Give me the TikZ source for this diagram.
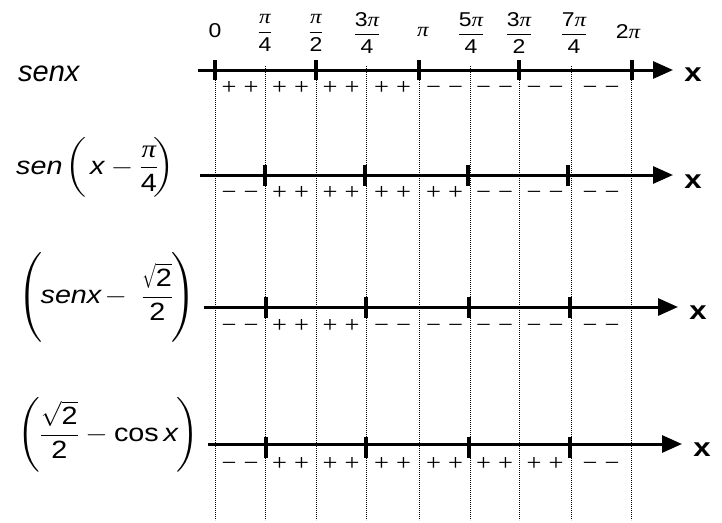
\documentclass[tikz,border=0pt]{standalone}
\usepackage{fix-cm}
\usepackage{amsmath}
\usepackage{fontspec}
\setmainfont{Liberation Sans}
\newfontfamily\serifpi{Liberation Serif}
\usepackage{graphicx}
\usetikzlibrary{arrows.meta}
\newcommand{\PI}{{\serifpi\itshape π}}
\newcommand{\hs}[2]{\scalebox{#1}[1]{#2}}
\newcommand{\sg}[1]{\if p#1+\else−\fi}
\newcommand{\rtwo}[1]{\hs{#1}{$\sqrt{\hbox{\hs{\fpeval{1/#1}}{2}}}$}}
\newcommand{\signrow}[9]{%
  \foreach \s [count=\i] in {#2,#3,#4,#5,#6,#7,#8,#9} {%
    \pgfmathsetmacro\c{{240,290.5,341,392.5,444.5,494.5,545,601}[\i-1]}%
    \node[sign] (s#1-\i a) at (\c-11,#1+6) {\hs{1.15}{\sg\s}};
    \node[sign] (s#1-\i b) at (\c+11,#1+6) {\hs{1.15}{\sg\s}};
  }%
}
\begin{document}
\begin{tikzpicture}[x=1pt,y=-1pt,
  axis/.style={line width=3pt,-{Triangle[length=20pt,width=17pt]}},
  tickmark/.style={line width=3.2pt},
  vdots/.style={line width=0.9pt,dash pattern=on 0.9pt off 1.1pt},
  sign/.style={font=\fontsize{23}{27}\selectfont\serifpi,inner sep=0pt,anchor=base},
  toplab/.style={font=\fontsize{20}{24}\selectfont,inner sep=0pt},
  xlab/.style={font=\fontsize{26}{30}\selectfont\bfseries,inner sep=0pt},
  eqlab/.style={font=\fontsize{25}{30}\selectfont,inner sep=0pt,anchor=west},
]
\useasboundingbox (0,0) rectangle (722,522);

% dotted verticals
\foreach \x [count=\i] in {215,265,316,366,419,470,519,571,631} {
  \coordinate (dt\i) at (\x,66);
  \coordinate (db\i) at (\x,520);
  \draw[vdots] (dt\i) -- (db\i);
}

% top labels
\node[toplab] (l0) at (215,31) {\hs{1.15}{0}};
\node[toplab] (l1) at (265,33) {\hs{1.15}{$\dfrac{\hbox{\PI}}{\hbox{4}}$}};
\node[toplab] (l2) at (316,33) {\hs{1.15}{$\dfrac{\hbox{\PI}}{\hbox{2}}$}};
\node[toplab] (l3) at (367,33) {\hs{1.15}{$\dfrac{\hbox{3\PI}}{\hbox{4}}$}};
\node[toplab] (l4) at (423,32) {\hs{1.15}{\PI}};
\node[toplab] (l5) at (471,33) {\hs{1.15}{$\dfrac{\hbox{5\PI}}{\hbox{4}}$}};
\node[toplab] (l6) at (519,33) {\hs{1.15}{$\dfrac{\hbox{3\PI}}{\hbox{2}}$}};
\node[toplab] (l7) at (574,33) {\hs{1.15}{$\dfrac{\hbox{7\PI}}{\hbox{4}}$}};
\node[toplab] (l8) at (628,32) {\hs{1.15}{2\PI}};

% row 1
\coordinate (a1s) at (198,70); \coordinate (a1e) at (673,70);
\draw[axis] (a1s) -- (a1e);
\foreach \x in {215,316,419,519,632} \draw[tickmark] (\x,60) -- (\x,80);
\node[xlab] (x1) at (693,75) {\hs{1.2}{x}};
\node[anchor=base west,inner sep=0pt,font=\fontsize{29}{34}\selectfont\itshape] (e1) at (18,81) {senx};
\signrow{88}{p}{p}{p}{p}{m}{m}{m}{m}

% row 2
\coordinate (a2s) at (200,175); \coordinate (a2e) at (673,175);
\draw[axis] (a2s) -- (a2e);
\foreach \x in {265,365,468,568} \draw[tickmark] (\x,165) -- (\x,186);
\node[xlab] (x2) at (693,182) {\hs{1.2}{x}};
\node[eqlab] (e2) at (16,168) {\hs{1.15}{$\hbox{\itshape sen}\mkern-1mu\left(\vrule height 38pt depth 26pt width 0pt\mkern2mu\hbox{\itshape x}-\dfrac{\hbox{\PI}}{\hbox{4}}\mkern-3mu\right)$}};
\signrow{193}{m}{p}{p}{p}{p}{m}{m}{m}

% row 3
\coordinate (a3s) at (204,307); \coordinate (a3e) at (678,307);
\draw[axis] (a3s) -- (a3e);
\foreach \x in {266,366,469,570} \draw[tickmark] (\x,297) -- (\x,318);
\node[xlab] (x3) at (698,313) {\hs{1.2}{x}};
\node[eqlab] (e3) at (17,297) {\hs{1.15}{$\left(\vrule height 44pt depth 34pt width 0pt\mkern-1mu\hbox{\itshape senx}\mkern-2mu-\mkern5mu\dfrac{\rtwo{0.55}}{\hbox{2}}\mkern-1mu\right)$}};
\signrow{326}{m}{p}{p}{m}{m}{m}{m}{m}

% row 4
\coordinate (a4s) at (208,444); \coordinate (a4e) at (682,444);
\draw[axis] (a4s) -- (a4e);
\foreach \x in {266,366,469,570} \draw[tickmark] (\x,437) -- (\x,458);
\node[xlab] (x4) at (702,450) {\hs{1.2}{x}};
\node[eqlab] (e4) at (17,435) {\hs{1.15}{$\left(\dfrac{\rtwo{0.85}}{\hbox{2}}-\hbox{cos\,\itshape x}\mkern-1mu\right)$}};
\signrow{464}{m}{p}{p}{p}{p}{p}{p}{m}
\end{tikzpicture}
\end{document}
